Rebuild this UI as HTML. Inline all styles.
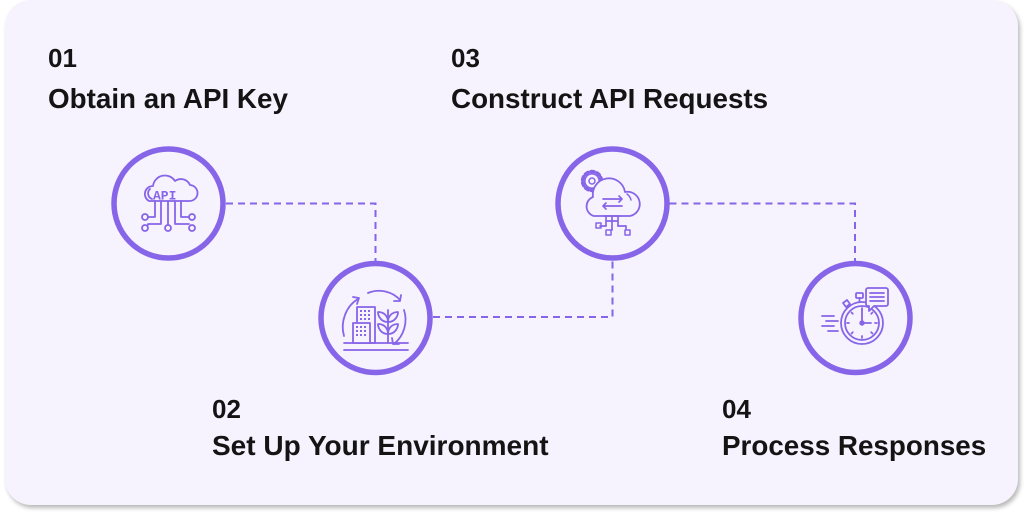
<!DOCTYPE html>
<html><head><meta charset="utf-8"><style>
html,body{margin:0;padding:0;background:#fff;}
body{width:1024px;height:518px;overflow:hidden;position:relative;}
.card{position:absolute;left:5px;top:0px;width:1013px;height:505px;border-radius:26px;background:#f6f3fe;box-shadow:2px 3px 4px rgba(0,0,0,0.28);}
svg{position:absolute;left:0;top:0;}
text{font-family:"Liberation Sans",Arial,sans-serif;font-weight:700;fill:#141414;}
</style></head><body>
<div class="card"></div>
<svg width="1024" height="518" viewBox="0 0 1024 518">
  <!-- connectors -->
  <g fill="none" stroke="#8765e8" stroke-width="2" stroke-dasharray="7 5">
    <path d="M226 203.5 H375.5 V262"/>
    <path d="M433 317 H612.5 V261"/>
    <path d="M669.5 203.5 H855 V262"/>
  </g>
  <!-- circles -->
  <g fill="#f6f3fe" stroke="#8765e8" stroke-width="5.5">
    <circle cx="168.5" cy="203.5" r="54.5"/>
    <circle cx="375.5" cy="318" r="54.5"/>
    <circle cx="612.5" cy="203.5" r="54.5"/>
    <circle cx="855.5" cy="318" r="54.5"/>
  </g>

  <!-- Icon 1: API cloud -->
  <g fill="none" stroke="#8765e8" stroke-width="1.8" stroke-linecap="round" stroke-linejoin="round">
    <path d="M149 201 H189 A8 8 0 0 0 190 185 A10 10 0 0 0 175 181 A12 12 0 0 0 153 186 A8 8 0 0 0 149 201 Z"/>
    <path d="M152 199 A6 6 0 0 1 150 189"/>
    <path d="M155 201 V217 H148"/>
    <path d="M161 201 V224 H148 V225"/>
    <path d="M168 201 V225"/>
    <path d="M175 201 V224 H189"/>
    <path d="M181 201 V217 H189"/>
    <circle cx="145" cy="217" r="3"/>
    <circle cx="145" cy="228" r="3"/>
    <circle cx="168" cy="228" r="3"/>
    <circle cx="192" cy="217" r="3"/>
    <circle cx="192" cy="228" r="3"/>
  </g>
  <text x="153" y="199.5" style="font-family:'Liberation Mono',monospace;font-weight:700;font-size:13px;fill:#8765e8;letter-spacing:0px">API</text>

  <!-- Icon 2: buildings -->
  <g fill="none" stroke="#8765e8" stroke-width="1.8" stroke-linecap="round" stroke-linejoin="round">
    <path d="M344 343 H408"/>
    <path d="M344 350 H408"/>
    <rect x="357" y="307" width="18" height="36"/>
    <rect x="353" y="323" width="17" height="20" fill="#f6f3fe"/>
    <path d="M388 343 V310"/>
    <path d="M388 322 C381 322 378 316 378 312 C384 312 388 316 388 322 Z"/>
    <path d="M388 322 C395 322 398 316 398 312 C392 312 388 316 388 322 Z"/>
    <path d="M388 334 C381 334 378 328 378 324 C384 324 388 328 388 334 Z"/>
    <path d="M388 334 C395 334 398 328 398 324 C392 324 388 328 388 334 Z"/>
    <!-- arrows -->
    <path d="M344 336 C340 322 346 306 358 299"/>
    <path d="M353 297 L359 298 L357 304"/>
    <path d="M368 293 C380 288 393 292 400 300"/>
    <path d="M394 301 L400 301 L401 295"/>
    <path d="M404 310 C408 322 404 336 394 344"/>
    <path d="M392 338 L393 344 L399 344"/>
  </g>
  <g fill="#8765e8">
    <rect x="360" y="310" width="2" height="2"/><rect x="364" y="310" width="2" height="2"/><rect x="368" y="310" width="2" height="2"/>
    <rect x="360" y="314" width="2" height="2"/><rect x="364" y="314" width="2" height="2"/><rect x="368" y="314" width="2" height="2"/>
    <rect x="360" y="318" width="2" height="2"/><rect x="364" y="318" width="2" height="2"/><rect x="368" y="318" width="2" height="2"/>
    <rect x="356" y="326" width="2" height="2"/><rect x="360" y="326" width="2" height="2"/><rect x="364" y="326" width="2" height="2"/>
    <rect x="356" y="330" width="2" height="2"/><rect x="360" y="330" width="2" height="2"/><rect x="364" y="330" width="2" height="2"/>
    <rect x="356" y="334" width="2" height="2"/><rect x="360" y="334" width="2" height="2"/><rect x="364" y="334" width="2" height="2"/>
  </g>

  <!-- Icon 3: gear + cloud -->
  <g fill="none" stroke="#8765e8" stroke-linecap="round" stroke-linejoin="round">
    <circle cx="592" cy="181" r="9.5" stroke-width="3.4" stroke-dasharray="3.2 3"/>
    <circle cx="592" cy="181" r="7.2" stroke-width="1.6"/>
    <circle cx="592" cy="181" r="3" stroke-width="1.5"/>
    <path d="M594 216 A10 10 0 0 1 593 197 A16 16 0 0 1 625 192 A12 12 0 0 1 630 216 Z" fill="#f6f3fe" stroke-width="1.8"/>
    <path d="M627 194 A10 10 0 0 1 631 200" stroke-width="1.5"/>
    <g stroke-width="1.7">
      <path d="M603 199 H622 M619 196 L622 199 L619 202"/>
      <path d="M622 206 H603 M606 203 L603 206 L606 209"/>
      <path d="M606 216 V226 M612 216 V229 M618 216 V226 M606 221 H618 M604 216 H620"/>
      <path d="M606 226 H600 M612 229 V230 M618 226 H626 V229"/>
    </g>
    <rect x="596" y="223" width="5" height="5" stroke-width="1.5"/>
    <rect x="606" y="230" width="5" height="5" stroke-width="1.5"/>
    <rect x="625" y="230" width="5" height="5" stroke-width="1.5"/>
  </g>

  <!-- Icon 4: stopwatch -->
  <g fill="none" stroke="#8765e8" stroke-width="1.8" stroke-linecap="round" stroke-linejoin="round">
    <path d="M822 316 H834 M826 321 H838 M822 326 H834 M828 331 H838"/>
    <circle cx="862" cy="323" r="21"/>
    <circle cx="862" cy="323" r="17"/>
    <path d="M862 323 V310 M862 323 H871"/>
    <circle cx="862" cy="323" r="1.8" fill="#8765e8"/>
    <path d="M862 308 V310 M862 336 V338 M847 323 H849 M875 323 H877 M851.5 312.5 L852.8 313.8 M872.5 312.5 L871.2 313.8 M851.5 333.5 L852.8 332.2 M872.5 333.5 L871.2 332.2"/>
    <rect x="856" y="293" width="7" height="5" rx="1"/>
    <path d="M859.5 298 V302"/>
    <path d="M843 303 L847 300 L850 304 L846 307 Z"/>
    <path d="M868 288 H886 A2 2 0 0 1 888 290 V304 A2 2 0 0 1 886 306 H874 L869 311 V306 H868 A2 2 0 0 1 866 304 V290 A2 2 0 0 1 868 288 Z" fill="#f6f3fe"/>
    <path d="M870 293 H884 M870 297 H884 M870 301 H884"/>
  </g>

  <!-- labels -->
  <text x="48" y="67" font-size="26">01</text>
  <text x="48" y="108" font-size="27.8">Obtain an API Key</text>
  <text x="451" y="67" font-size="26">03</text>
  <text x="451" y="108" font-size="27.8">Construct API Requests</text>
  <text x="212" y="418" font-size="26">02</text>
  <text x="212" y="455" font-size="28">Set Up Your Environment</text>
  <text x="722" y="418" font-size="26">04</text>
  <text x="722" y="455" font-size="27.8">Process Responses</text>
</svg>
</body></html>
